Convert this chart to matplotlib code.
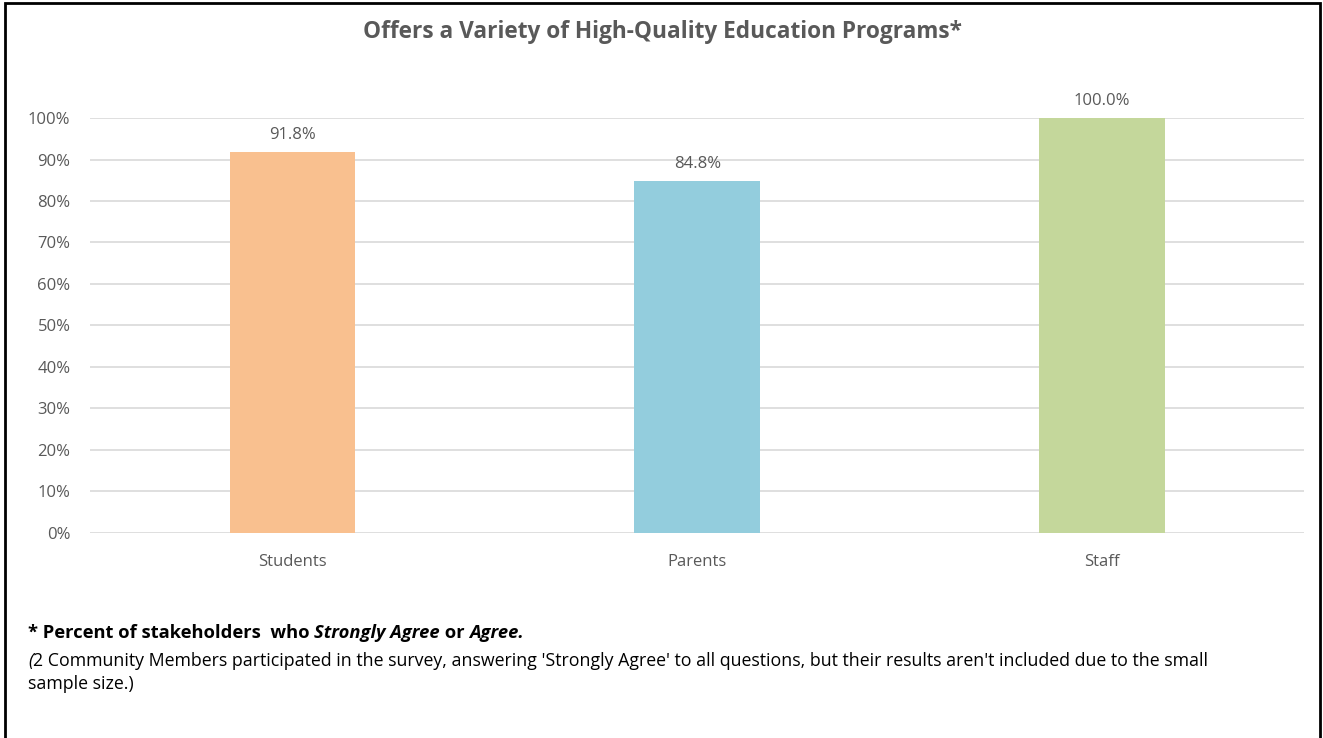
import matplotlib
matplotlib.use("Agg")
import matplotlib.pyplot as plt
import matplotlib.patches as patches
from matplotlib.ticker import PercentFormatter

plt.rcParams["font.family"] = ["Open Sans", "DejaVu Sans"]

groups = ["Students", "Parents", "Staff"]
values = [91.8, 84.8, 100.0]
colors = ["#F9C08F", "#93CDDD", "#C4D79B"]
yticks = [0, 10, 20, 30, 40, 50, 60, 70, 80, 90, 100]
title = "Offers a Variety of High-Quality Education Programs*"
note1 = [("* Percent of stakeholders  who ", "normal"), ("Strongly Agree", "italic"),
         (" or ", "normal"), ("Agree.", "italic")]
note2 = ("2 Community Members participated in the survey, answering 'Strongly Agree' "
         "to all questions, but their results aren't included due to the small")
note3 = "sample size.)"

TXT = "#595959"

fig = plt.figure(figsize=(13.23, 7.38), dpi=100)
ax = fig.add_axes([0.068, 0.2778, 0.918, 0.5623])

x = list(range(len(groups)))
ax.bar(x, values, width=0.31, color=colors, zorder=3)
for xi, v in zip(x, values):
    ax.text(xi, v + 2.2, f"{v:.1f}%", ha="center", va="bottom",
            fontsize=12, color=TXT, clip_on=False)

ax.set_xlim(-0.5, len(groups) - 0.5)
ax.set_ylim(0, 100)
ax.set_yticks(yticks)
ax.yaxis.set_major_formatter(PercentFormatter(decimals=0))
ax.set_xticks(x)
ax.set_xticklabels(groups)
ax.tick_params(axis="both", length=0, colors=TXT, labelsize=12)
ax.tick_params(axis="y", pad=14)
ax.tick_params(axis="x", pad=15)
ax.grid(axis="y", color="#D9D9D9", linewidth=1.2, zorder=0)
for s in ax.spines.values():
    s.set_visible(False)

fig.text(0.501, 0.957, title, ha="center", va="center", fontsize=16.3,
         fontweight="bold", color=TXT)

# footnote: bold line with italic bits, pieces chained left to right
prev = fig.text(28 / 1323, 1 - 642 / 738, note1[0][0], fontsize=13.2,
                fontweight="bold", color="black", va="bottom")
for s, st in note1[1:]:
    prev = plt.annotate(s, xy=(1, 0), xycoords=prev, va="bottom", fontsize=13.2,
                        fontweight="bold", fontstyle=st, color="black",
                        annotation_clip=False)

a = fig.text(28 / 1323, 1 - 670 / 738, "(", fontsize=12.8, fontstyle="italic",
             color="black", va="bottom")
plt.annotate(note2, xy=(1, 0), xycoords=a, va="bottom", fontsize=12.8,
             color="black", annotation_clip=False)
fig.text(28 / 1323, 1 - 693 / 738, note3, fontsize=12.8, color="black", va="bottom")

# outer frame
fig.patches.append(patches.Rectangle((5 / 1323, -0.01), 1315 / 1323, 1 - 3 / 738 + 0.01,
                                     transform=fig.transFigure, fill=False,
                                     edgecolor="black", linewidth=2))

fig.savefig("out.png", dpi=100, facecolor="white")
